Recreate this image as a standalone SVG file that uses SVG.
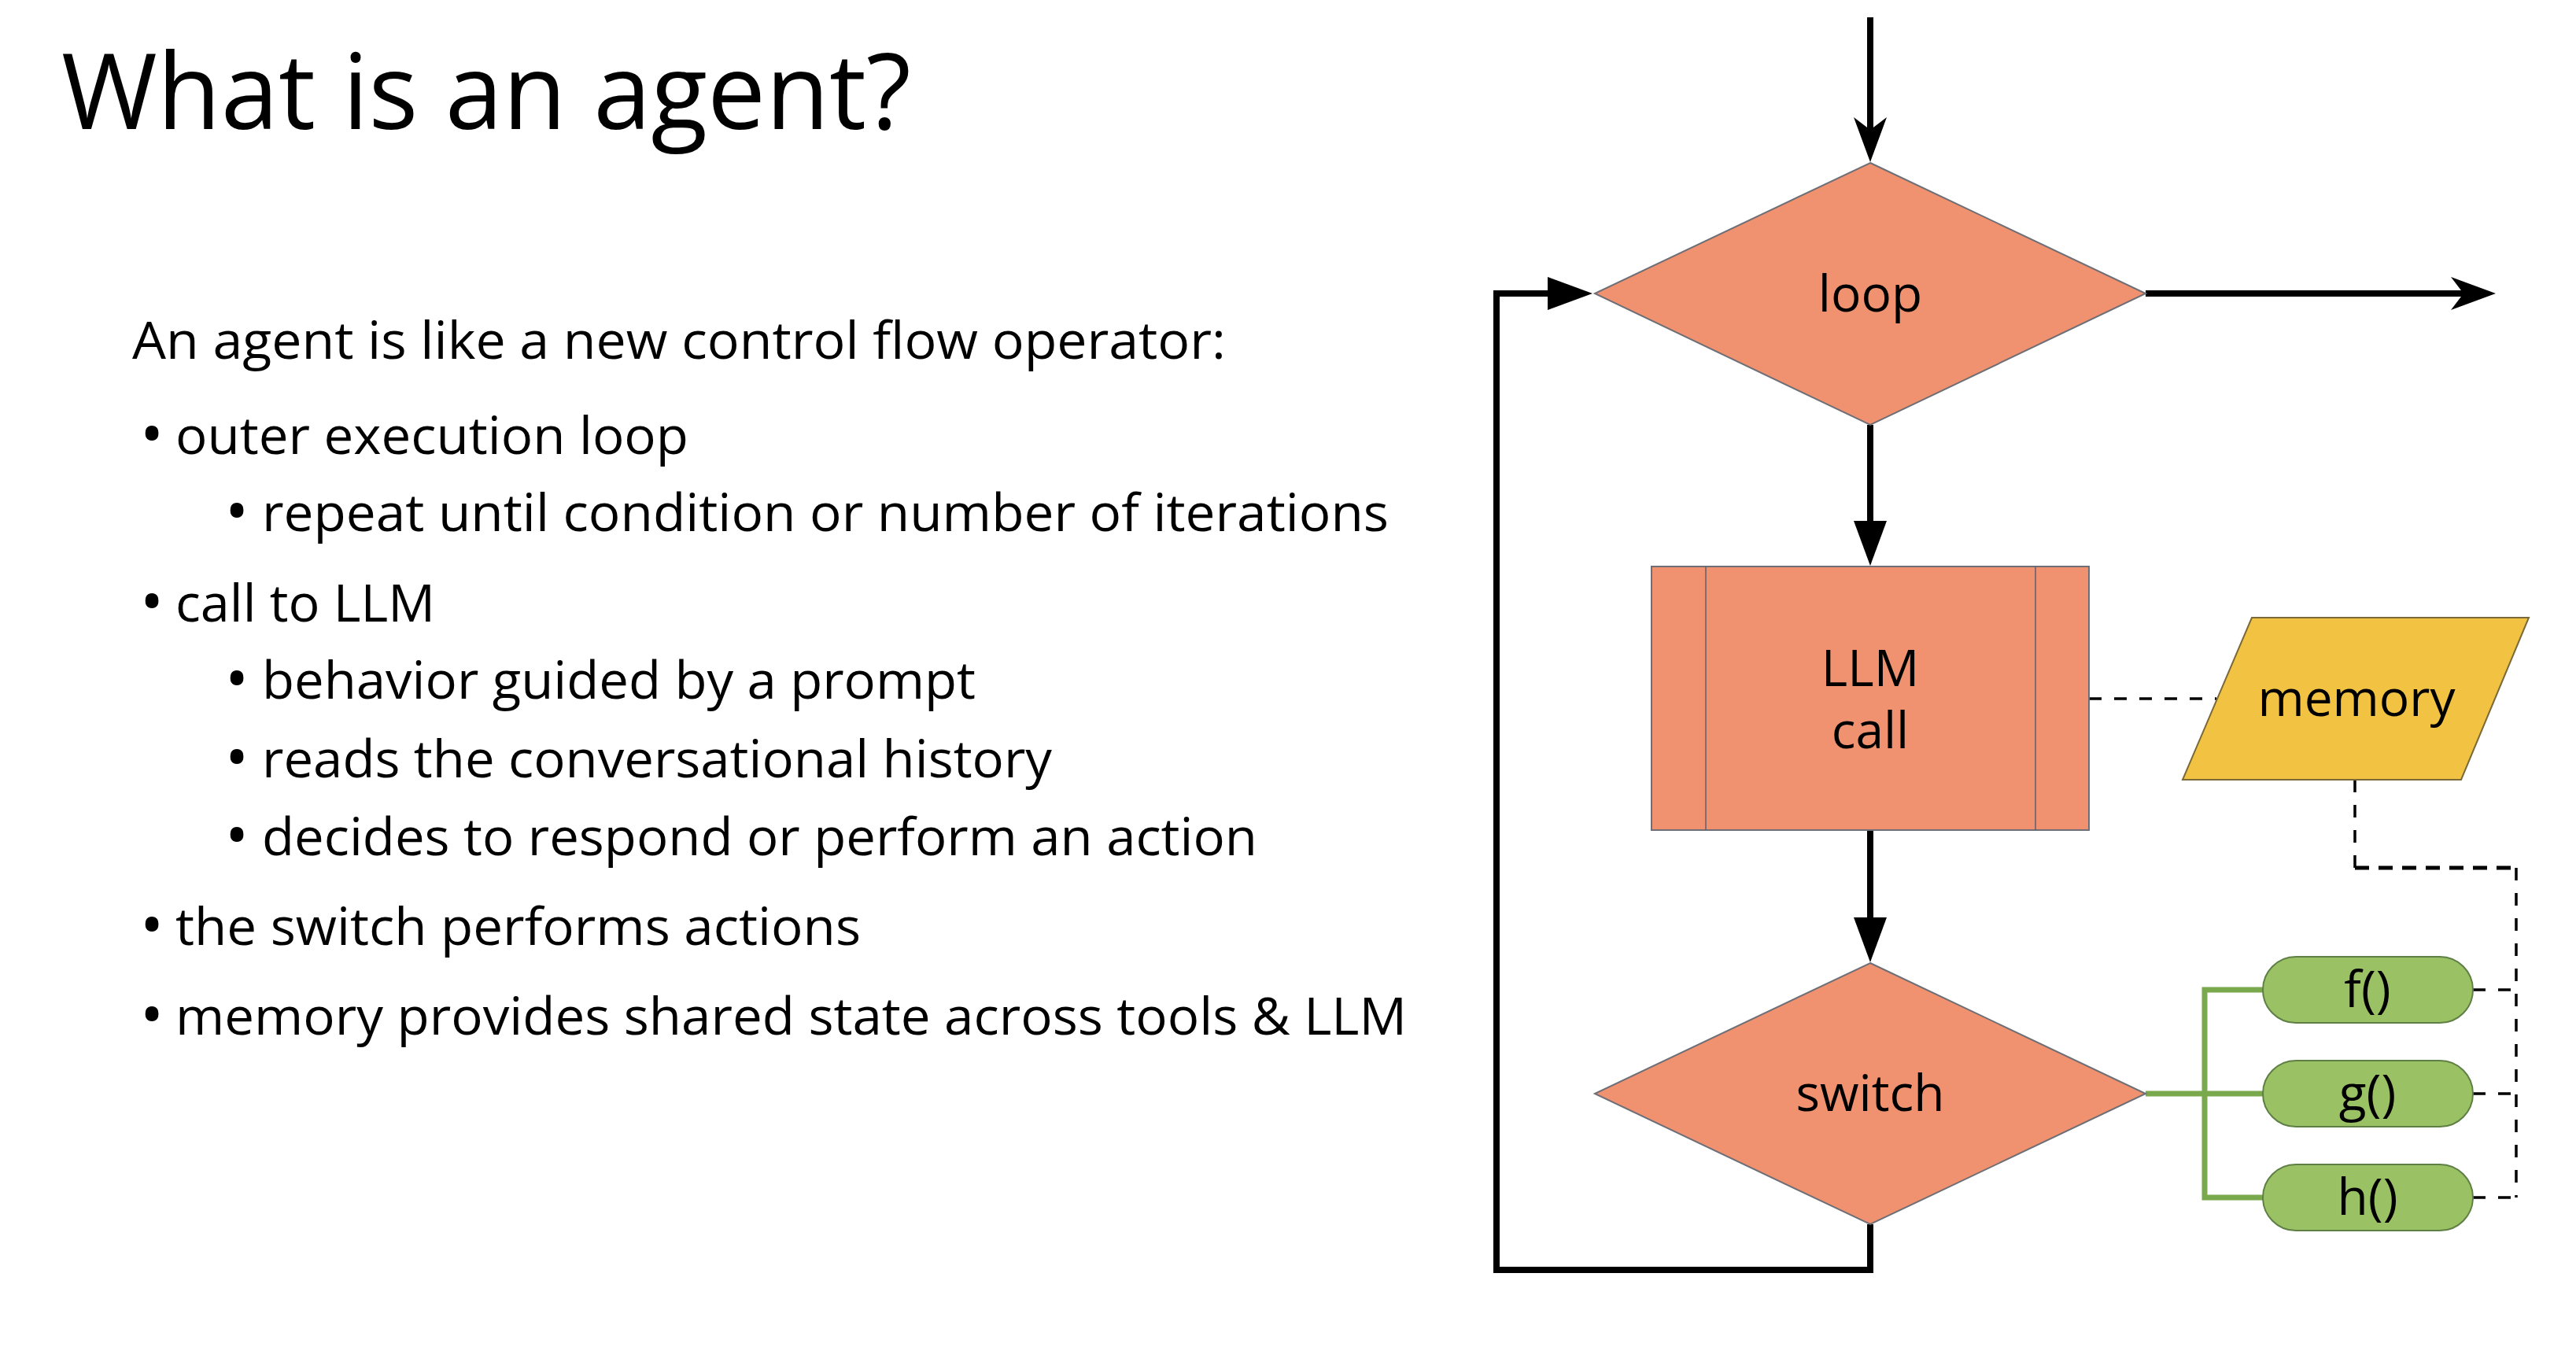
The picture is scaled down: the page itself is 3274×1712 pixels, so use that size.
<svg xmlns="http://www.w3.org/2000/svg" width="3274" height="1712" viewBox="0 0 3274 1712">
<style>
  text { font-family: "Open Sans", "Noto Sans", "Liberation Sans", sans-serif; fill: #000; }
  .title { font-size: 134px; }
  .body { font-size: 66px; }
  .bul { font-size: 80px; }
  .lbl { font-size: 64px; text-anchor: middle; }
  .orange { fill: #F0926F; stroke: #6E6E76; stroke-width: 2; }
  .inner { stroke: #5E5E6E; stroke-width: 1.5; fill: none; }
  .mem { fill: #F2C242; stroke: #7A6A3A; stroke-width: 2; }
  .pill { fill: #9AC164; stroke: #5F7F45; stroke-width: 2; }
  .flow { fill: none; stroke: #000; stroke-width: 8; }
  .green { fill: none; stroke: #79A94C; stroke-width: 7; }
  .dash { fill: none; stroke: #000; stroke-width: 3.5; stroke-dasharray: 16 16; }
  .dash2 { fill: none; stroke: #000; stroke-width: 5; stroke-dasharray: 18 12; }
</style>
<defs>
  <marker id="stealth" markerUnits="userSpaceOnUse" markerWidth="58" markerHeight="42" viewBox="0 0 58 42" refX="16" refY="21" orient="auto">
    <path d="M0,0 L57,21 L0,42 L16,21 Z" fill="#000"/>
  </marker>
  <marker id="tri" markerUnits="userSpaceOnUse" markerWidth="58" markerHeight="42" viewBox="0 0 58 42" refX="1" refY="21" orient="auto">
    <path d="M0,0 L57,21 L0,42 Z" fill="#000"/>
  </marker>
</defs>
<rect width="3274" height="1712" fill="#FFFFFF"/>

<g id="text-panel">
  <text class="title" x="78" y="164" textLength="1080" lengthAdjust="spacingAndGlyphs">What is an agent?</text>
  <text class="body" x="168" y="456" textLength="1390" lengthAdjust="spacingAndGlyphs">An agent is like a new control flow operator:</text>
  <text class="bul" x="178" y="580">•</text>
  <text class="body" x="223" y="577" textLength="652" lengthAdjust="spacingAndGlyphs">outer execution loop</text>
  <text class="bul" x="286" y="678">•</text>
  <text class="body" x="333" y="675" textLength="1432" lengthAdjust="spacingAndGlyphs">repeat until condition or number of iterations</text>
  <text class="bul" x="178" y="793">•</text>
  <text class="body" x="223" y="790" textLength="330" lengthAdjust="spacingAndGlyphs">call to LLM</text>
  <text class="bul" x="286" y="891">•</text>
  <text class="body" x="333" y="888" textLength="907" lengthAdjust="spacingAndGlyphs">behavior guided by a prompt</text>
  <text class="bul" x="286" y="991">•</text>
  <text class="body" x="333" y="988" textLength="1004" lengthAdjust="spacingAndGlyphs">reads the conversational history</text>
  <text class="bul" x="286" y="1090">•</text>
  <text class="body" x="333" y="1087" textLength="1265" lengthAdjust="spacingAndGlyphs">decides to respond or perform an action</text>
  <text class="bul" x="178" y="1204">•</text>
  <text class="body" x="223" y="1201" textLength="871" lengthAdjust="spacingAndGlyphs">the switch performs actions</text>
  <text class="bul" x="178" y="1318">•</text>
  <text class="body" x="223" y="1315" textLength="1565" lengthAdjust="spacingAndGlyphs">memory provides shared state across tools &amp; LLM</text>
</g>

<g id="connectors">
  <path class="flow" d="M2377,22 V165" marker-end="url(#stealth)"/>
  <path class="flow" d="M2377,540 V663" marker-end="url(#tri)"/>
  <path class="flow" d="M2377,1055 V1167" marker-end="url(#tri)"/>
  <path class="flow" d="M2377,1556 V1614 H1902 V373 H1968" marker-end="url(#tri)"/>
  <path class="flow" d="M2727,373 H3131" marker-end="url(#stealth)"/>
  <path class="green" d="M2727,1390 H2876"/>
  <path class="green" d="M2876,1258 H2802 V1522 H2876"/>
  <path class="dash" d="M2655,888 H2817"/>
  <path class="dash" d="M2993,991 V1103"/>
  <path class="dash2" d="M2993,1103 H3198"/>
  <path class="dash" d="M3198,1103 V1522"/>
  <path class="dash" d="M3143,1258 H3198"/>
  <path class="dash" d="M3143,1390 H3198"/>
  <path class="dash" d="M3143,1522 H3198"/>
</g>

<g id="node-loop">
  <polygon class="orange" points="2377,207 2727,373 2377,540 2027,373"/>
  <text class="lbl" x="2377" y="396">loop</text>
</g>

<g id="node-llm">
  <rect class="orange" x="2099" y="720" width="556" height="335"/>
  <line class="inner" x1="2168" y1="720" x2="2168" y2="1055"/>
  <line class="inner" x1="2587" y1="720" x2="2587" y2="1055"/>
  <text class="lbl" x="2377" y="872">LLM</text>
  <text class="lbl" x="2377" y="951">call</text>
</g>

<g id="node-memory">
  <polygon class="mem" points="2862,785 3214,785 3128,991 2774,991"/>
  <text class="lbl" x="2995" y="910">memory</text>
</g>

<g id="node-switch">
  <polygon class="orange" points="2377,1224 2727,1390 2377,1556 2027,1390"/>
  <text class="lbl" x="2377" y="1412">switch</text>
</g>

<g id="node-f">
  <rect class="pill" x="2876" y="1216" width="267" height="84" rx="42" ry="42"/>
  <text class="lbl" x="3009" y="1280">f()</text>
</g>
<g id="node-g">
  <rect class="pill" x="2876" y="1348" width="267" height="84" rx="42" ry="42"/>
  <text class="lbl" x="3009" y="1412">g()</text>
</g>
<g id="node-h">
  <rect class="pill" x="2876" y="1480" width="267" height="84" rx="42" ry="42"/>
  <text class="lbl" x="3009" y="1544">h()</text>
</g>
</svg>
